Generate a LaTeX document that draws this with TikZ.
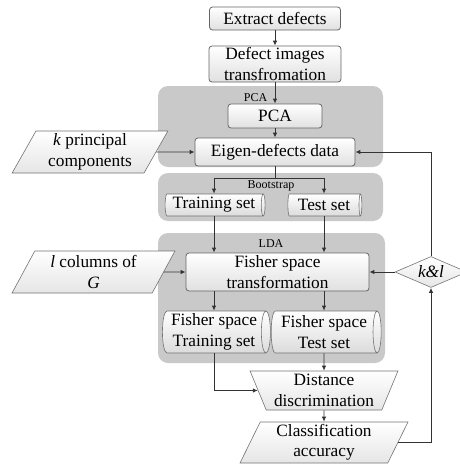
\documentclass[tikz,border=0pt]{standalone}
\usepackage{fontspec}
\setmainfont{Liberation Serif}
\usetikzlibrary{shapes.geometric,arrows.meta}
\begin{document}
\begin{tikzpicture}[x=1pt,y=-1pt,
  font=\fontsize{17.3}{20.5}\selectfont,
  line/.style={draw=black!80, line width=0.9pt},
  arr/.style={line, -{Latex[length=5pt,width=4.5pt]}},
  boxs/.style={draw=black!60, line width=0.8pt, rounded corners=3pt, top color=white, bottom color=black!12, align=center, inner sep=0pt},
  grp/.style={fill=black!21, rounded corners=10pt},
  para/.style={trapezium, draw=black!55, line width=0.6pt, top color=white, bottom color=black!10, align=center, inner sep=0pt, trapezium stretches=true},
  cyl/.style={cylinder, draw=black!55, line width=0.6pt, aspect=0.25, top color=white, bottom color=black!14, align=center, inner sep=0pt},
  small/.style={font=\fontsize{12}{14}\selectfont}
]
\useasboundingbox (0,0) rectangle (460,464);
% groups
\fill[grp] (158,86) rectangle (383,167);
\fill[grp] (158,173) rectangle (383,221);
\fill[grp] (158,233) rectangle (385,363);
\node[small] (lpca) at (255.5,98) {PCA};
\node[small] (lboot) at (271,186) {Bootstrap};
\node[small] (llda) at (271,244) {LDA};
% nodes
\node[boxs, minimum width=131pt, minimum height=23pt] (extract) at (275,18.5) {Extract defects};
\node[boxs, minimum width=132pt, minimum height=36pt] (defimg) at (275,64) {Defect images\\transfromation};
\node[boxs, minimum width=94pt, minimum height=24pt] (pca) at (275,116) {PCA};
\node[boxs, minimum width=160pt, minimum height=28pt] (eigen) at (275,152) {Eigen-defects data};
\node[para, trapezium left angle=63, trapezium right angle=117, minimum width=156pt, minimum height=42pt] (kpc) at (90,152) {\textit{k} principal\\components};
\node[cyl, minimum height=100pt, minimum width=22pt] (train) at (214,205) {Training set};
\node[cyl, minimum height=74pt, minimum width=22pt] (test) at (324,205) {Test set};
\node[boxs, minimum width=183pt, minimum height=38pt] (fisher) at (277.5,272) {Fisher space\\transformation};
\node[para, trapezium left angle=63, trapezium right angle=117, minimum width=163pt, minimum height=42pt] (lcol) at (93.5,272) {\textit{l} columns of\\\textit{G}};
\node[diamond, draw=black!55, line width=0.6pt, top color=white, bottom color=black!10, aspect=2.3, inner sep=0pt, minimum width=72pt, minimum height=31pt] (kl) at (431,272) {\textit{k\&l}};
\node[cyl, minimum height=108pt, minimum width=42pt] (fts) at (214,332) {Fisher space\\Training set};
\node[cyl, minimum height=110pt, minimum width=42pt] (ftt) at (324,332) {Fisher space\\Test set};
\node[para, trapezium angle=66.5, shape border rotate=180, minimum width=148pt, minimum height=39pt] (dist) at (324,390.5) {Distance\\discrimination};
\node[para, trapezium left angle=67.5, trapezium right angle=112.5, minimum width=168pt, minimum height=41pt] (class) at (324,442.5) {Classification\\accuracy};
% connectors
\draw[arr] (extract) -- (defimg);
\draw[arr] (defimg) -- (pca);
\draw[arr] (pca) -- (eigen);
\coordinate (br) at (275,178);
\draw[line] (eigen.south) -- (br);
\draw[arr] (br) -| (train.north);
\draw[arr] (br) -| (test.north);
\draw[arr] (train.south) -- (fisher.north -| train.south);
\draw[arr] (test.south) -- (fisher.north -| test.south);
\draw[arr] (kpc.east) -- (eigen.west);
\draw[arr] (lcol.east) -- (fisher.west);
\draw[arr] (kl.west) -- (fisher.east);
\draw[arr] (kl.north) |- (eigen.east);
\draw[arr] (class.east) -| (kl.south);
\draw[arr] (fisher.south -| fts.north) -- (fts.north);
\draw[arr] (fisher.south -| ftt.north) -- (ftt.north);
\draw[arr] (ftt.south) -- (dist.north);
\draw[arr] (fts.south) |- (dist.west);
\draw[arr] (dist.south) -- (class.north);
\end{tikzpicture}
\end{document}
